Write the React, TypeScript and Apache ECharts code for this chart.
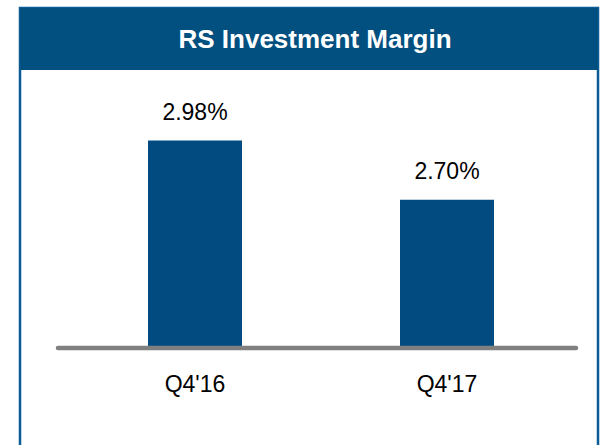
import React, { useEffect, useRef } from "react";
import * as echarts from "echarts";

const title = "RS Investment Margin";
const categories = ["Q4'16", "Q4'17"];
const values = [2.98, 2.7];
const valueLabels = ["2.98%", "2.70%"];

export default function App() {
  const ref = useRef<HTMLDivElement>(null);
  useEffect(() => {
    if (!ref.current) return;
    const chart = echarts.init(ref.current, undefined, { renderer: "svg" });
    chart.setOption({
      animation: false,
      backgroundColor: "#ffffff",
      textStyle: { fontFamily: "Liberation Sans, Arial, sans-serif" },
      graphic: [
        {
          type: "rect",
          shape: { x: 20, y: 8, width: 578, height: 450 },
          style: { fill: "#ffffff", stroke: "#0b5b96", lineWidth: 2.5 },
          z: 0,
        },
        {
          type: "rect",
          shape: { x: 20, y: 8, width: 578, height: 62 },
          style: { fill: "#02507f" },
          z: 1,
        },
        {
          type: "text",
          x: 315,
          y: 39,
          style: {
            text: title,
            fill: "#ffffff",
            font: "bold 26px Liberation Sans, Arial, sans-serif",
            textAlign: "center",
            textVerticalAlign: "middle",
          },
          z: 2,
        },
        {
          type: "line",
          shape: { x1: 58, y1: 348, x2: 576, y2: 348 },
          style: { stroke: "#808080", lineWidth: 4.5, lineCap: "round" },
          z: 10,
        },
      ],
      grid: { left: 69, right: 602 - 573, top: 94, bottom: 445 - 348, containLabel: false },
      xAxis: {
        type: "category",
        data: categories,
        axisLine: { show: false },
        axisTick: { show: false },
        axisLabel: { color: "#000000", fontSize: 23, margin: 24 },
      },
      yAxis: {
        type: "value",
        min: 2.0,
        max: 3.2,
        show: false,
        splitLine: { show: false },
      },
      series: [
        {
          type: "bar",
          data: values,
          barWidth: 94,
          itemStyle: { color: "#024b80" },
          label: {
            show: true,
            position: "top",
            distance: 17,
            color: "#000000",
            fontSize: 23,
            formatter: (p: any) => valueLabels[p.dataIndex],
          },
        },
      ],
    });
    return () => chart.dispose();
  }, []);
  return (
    <div
      ref={ref}
      style={{ position: "fixed", left: 0, top: 0, width: 602, height: 445 }}
    />
  );
}
